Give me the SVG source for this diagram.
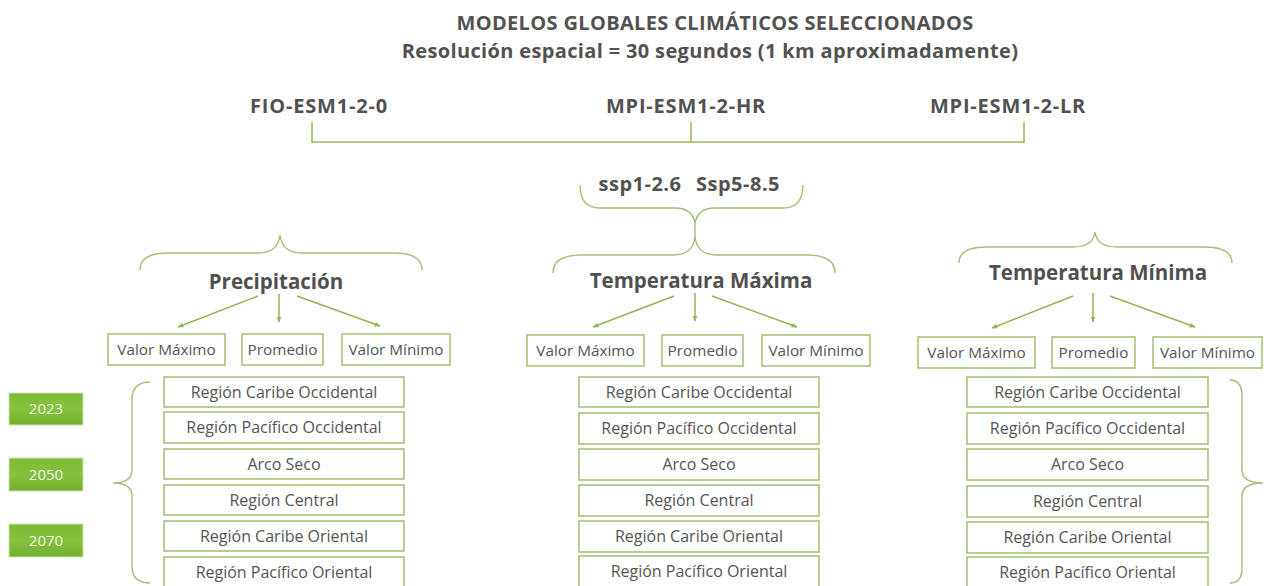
<svg xmlns="http://www.w3.org/2000/svg" width="1266" height="586" viewBox="0 0 1266 586">
<defs>
<style>
text{font-family:"Open Sans","Noto Sans","Liberation Sans",sans-serif;fill:#555;}
.t{font-size:20px;font-weight:700;text-anchor:middle;letter-spacing:0.35px;fill:#525252;}
.m{font-size:20px;font-weight:700;text-anchor:middle;letter-spacing:0.8px;fill:#525252;}
.h{font-size:20.5px;font-weight:700;text-anchor:middle;fill:#505050;}
.v{font-size:15.3px;text-anchor:middle;}
.r{font-size:16px;text-anchor:middle;}
.y{font-size:15px;text-anchor:middle;fill:#eef6e2;}
.box{fill:#fff;stroke:#a9c27a;stroke-width:1.6;}
.yr{fill:url(#gy);stroke:#cfe3b0;stroke-width:1;}
.ln{fill:none;stroke:#9bbb5c;stroke-width:1.6;}
.br{fill:none;stroke:#a6bf78;stroke-width:1.4;}
.ar{fill:none;stroke:#93b355;stroke-width:1.5;marker-end:url(#ah);}
</style>
<linearGradient id="gy" x1="0" y1="0" x2="0" y2="1">
<stop offset="0" stop-color="#7cbb35"/>
<stop offset="0.5" stop-color="#86c13f"/>
<stop offset="1" stop-color="#72b02b"/>
</linearGradient>
<marker id="ah" viewBox="0 0 10 10" refX="9" refY="5" markerWidth="6" markerHeight="6" orient="auto" markerUnits="userSpaceOnUse">
<path d="M0,1 L10,5 L0,9 z" fill="#93b355"/>
</marker>
</defs>

<g id="title">
<text class="t" x="715" y="30">MODELOS GLOBALES CLIMÁTICOS SELECCIONADOS</text>
<text class="t" x="710" y="58">Resolución espacial = 30 segundos (1 km aproximadamente)</text>
</g>

<g id="models">
<text class="m" x="319" y="113">FIO-ESM1-2-0</text>
<text class="m" x="686" y="113">MPI-ESM1-2-HR</text>
<text class="m" x="1008" y="113">MPI-ESM1-2-LR</text>
</g>

<g id="scenarios">
<text class="m" x="640" y="191" style="letter-spacing:0.5px">ssp1-2.6</text>
<text class="m" x="738" y="191" style="letter-spacing:0.5px">Ssp5-8.5</text>
</g>

<g id="connectors">
<path class="ln" d="M312,122 V142 H1024 V122 M691,122 V142"/>
<path class="br" d="M580,185 Q580,208 600,208 L675,208 Q693,208 695,224 Q697,208 715,208 L783,208 Q803,208 803,185"/>
<path class="br" d="M695,224 V238"/>
<path class="br" d="M140,270 Q140,253 168,253 L258,253 Q278,253 280,235 Q282,253 302,253 L394,253 Q422,253 422,270"/>
<path class="br" d="M553,273 Q553,255 581,255 L673,255 Q693,255 695,237 Q697,255 717,255 L807,255 Q835,255 835,273"/>
<path class="br" d="M959,263 Q959,247 987,247 L1073,247 Q1093,247 1095,232 Q1097,247 1117,247 L1204,247 Q1232,247 1232,263"/>
<path class="br" d="M150,382 Q132,382 132,400 L132,470 Q132,483 113,483 Q132,483 132,496 L132,566 Q132,583 150,583"/>
<path class="br" d="M1230,380 Q1242,380 1242,396 L1242,470 Q1242,483 1263,483 Q1242,483 1242,496 L1242,568 Q1242,583 1230,583"/>
<path class="ar" d="M258,296 L178,327"/>
<path class="ar" d="M279,294 V322"/>
<path class="ar" d="M297,296 L380,326"/>
<path class="ar" d="M674,296 L593,327"/>
<path class="ar" d="M695,293 V321"/>
<path class="ar" d="M712,296 L797,327"/>
<path class="ar" d="M1073,296 L992,328"/>
<path class="ar" d="M1093,293 V322"/>
<path class="ar" d="M1110,296 L1195,327"/>
</g>

<g id="precipitacion">
<text class="h" x="276" y="289">Precipitación</text>
<rect class="box" x="108" y="334" width="117" height="31"/><text class="v" x="166.5" y="355">Valor Máximo</text>
<rect class="box" x="242" y="334" width="81" height="31"/><text class="v" x="282.5" y="355">Promedio</text>
<rect class="box" x="342" y="334" width="108" height="31"/><text class="v" x="396" y="355">Valor Mínimo</text>
</g>

<g id="tmax">
<text class="h" x="701" y="288">Temperatura Máxima</text>
<rect class="box" x="527" y="335" width="117" height="31"/><text class="v" x="585.5" y="356">Valor Máximo</text>
<rect class="box" x="662" y="335" width="81" height="31"/><text class="v" x="702.5" y="356">Promedio</text>
<rect class="box" x="762" y="335" width="108" height="31"/><text class="v" x="816" y="356">Valor Mínimo</text>
</g>

<g id="tmin">
<text class="h" x="1098" y="280">Temperatura Mínima</text>
<rect class="box" x="918" y="337" width="117" height="31"/><text class="v" x="976.5" y="358">Valor Máximo</text>
<rect class="box" x="1052" y="337" width="83" height="31"/><text class="v" x="1093.5" y="358">Promedio</text>
<rect class="box" x="1153" y="337" width="109" height="31"/><text class="v" x="1207.5" y="358">Valor Mínimo</text>
</g>

<g id="regiones-precipitacion">
<rect class="box" x="164" y="377" width="240" height="30"/><text class="r" x="284" y="398">Región Caribe Occidental</text>
<rect class="box" x="164" y="412" width="240" height="31"/><text class="r" x="284" y="433">Región Pacífico Occidental</text>
<rect class="box" x="164" y="449" width="240" height="30"/><text class="r" x="284" y="470">Arco Seco</text>
<rect class="box" x="164" y="485" width="240" height="30"/><text class="r" x="284" y="506">Región Central</text>
<rect class="box" x="164" y="521" width="240" height="30"/><text class="r" x="284" y="542">Región Caribe Oriental</text>
<rect class="box" x="164" y="557" width="240" height="32"/><text class="r" x="284" y="578">Región Pacífico Oriental</text>
</g>

<g id="regiones-tmax">
<rect class="box" x="579" y="377" width="240" height="30"/><text class="r" x="699" y="398">Región Caribe Occidental</text>
<rect class="box" x="579" y="413" width="240" height="31"/><text class="r" x="699" y="434">Región Pacífico Occidental</text>
<rect class="box" x="579" y="449" width="240" height="31"/><text class="r" x="699" y="470">Arco Seco</text>
<rect class="box" x="579" y="485" width="240" height="31"/><text class="r" x="699" y="506">Región Central</text>
<rect class="box" x="579" y="521" width="240" height="31"/><text class="r" x="699" y="542">Región Caribe Oriental</text>
<rect class="box" x="579" y="556" width="240" height="33"/><text class="r" x="699" y="577">Región Pacífico Oriental</text>
</g>

<g id="regiones-tmin">
<rect class="box" x="967" y="377" width="241" height="30"/><text class="r" x="1087.5" y="398">Región Caribe Occidental</text>
<rect class="box" x="967" y="413" width="241" height="31"/><text class="r" x="1087.5" y="434">Región Pacífico Occidental</text>
<rect class="box" x="967" y="449" width="241" height="31"/><text class="r" x="1087.5" y="470">Arco Seco</text>
<rect class="box" x="967" y="486" width="241" height="31"/><text class="r" x="1087.5" y="507">Región Central</text>
<rect class="box" x="967" y="522" width="241" height="31"/><text class="r" x="1087.5" y="543">Región Caribe Oriental</text>
<rect class="box" x="967" y="557" width="241" height="32"/><text class="r" x="1087.5" y="578">Región Pacífico Oriental</text>
</g>

<g id="years">
<rect class="yr" x="9" y="393" width="74" height="32"/><text class="y" x="46" y="414">2023</text>
<rect class="yr" x="9" y="458" width="74" height="33"/><text class="y" x="46" y="480">2050</text>
<rect class="yr" x="9" y="524" width="74" height="33"/><text class="y" x="46" y="546">2070</text>
</g>
</svg>
